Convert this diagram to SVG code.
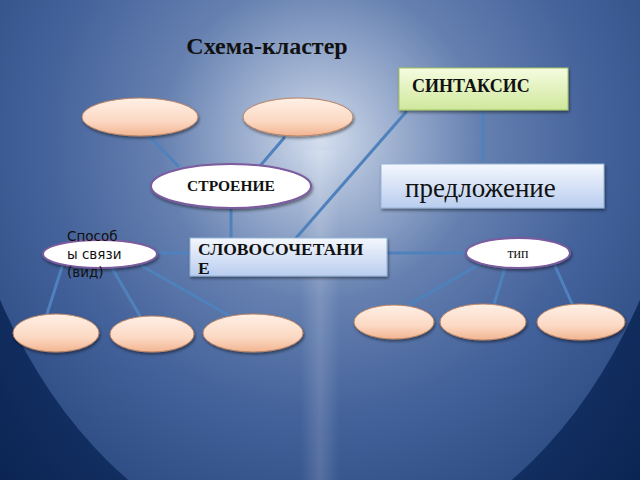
<svg xmlns="http://www.w3.org/2000/svg" width="640" height="480" viewBox="0 0 640 480">
<defs>
<radialGradient id="bgOuter" cx="320" cy="240" r="420" gradientUnits="userSpaceOnUse">
<stop offset="0" stop-color="#2a4a82"/>
<stop offset="0.6" stop-color="#153468"/>
<stop offset="1" stop-color="#0a2250"/>
</radialGradient>
<radialGradient id="bgInner" cx="320" cy="140" r="400" gradientUnits="userSpaceOnUse">
<stop offset="0" stop-color="#d4deee"/>
<stop offset="0.15" stop-color="#a7b8d5"/>
<stop offset="0.4" stop-color="#6580b0"/>
<stop offset="0.7" stop-color="#43619a"/>
<stop offset="1" stop-color="#2d4c84"/>
</radialGradient>
<linearGradient id="streak" x1="0" y1="0" x2="1" y2="0">
<stop offset="0" stop-color="#ffffff" stop-opacity="0"/>
<stop offset="0.5" stop-color="#ffffff" stop-opacity="0.15"/>
<stop offset="1" stop-color="#ffffff" stop-opacity="0"/>
</linearGradient>
<linearGradient id="peach" x1="0" y1="0" x2="0" y2="1">
<stop offset="0" stop-color="#fff0e6"/>
<stop offset="0.6" stop-color="#fcd9c4"/>
<stop offset="1" stop-color="#f2b592"/>
</linearGradient>
<linearGradient id="green" x1="0" y1="0" x2="0" y2="1">
<stop offset="0" stop-color="#f6fce0"/>
<stop offset="1" stop-color="#cfe79c"/>
</linearGradient>
<linearGradient id="blue" x1="0" y1="0" x2="0" y2="1">
<stop offset="0" stop-color="#f4f7fd"/>
<stop offset="1" stop-color="#b9cdef"/>
</linearGradient>
<filter id="sh" x="-20%" y="-20%" width="140%" height="150%">
<feDropShadow dx="1" dy="2" stdDeviation="1.5" flood-color="#000" flood-opacity="0.45"/>
</filter>
</defs>
<style>
.peach{fill:url(#peach);stroke:#b98466;stroke-width:1;filter:url(#sh)}
.white{fill:#ffffff;stroke:#7b5b9e;stroke-width:2;filter:url(#sh)}
.conn{stroke:#4f81bd;stroke-width:3;fill:none;stroke-linecap:round}
.serifB{font-family:"Liberation Serif","Times New Roman",serif;font-weight:bold;fill:#111}
.serif{font-family:"Liberation Serif","Times New Roman",serif;fill:#111}
.sans{font-family:"DejaVu Sans","Liberation Sans",sans-serif;fill:#111}
</style>

<rect x="0" y="0" width="640" height="480" fill="url(#bgOuter)"/>
<ellipse cx="320" cy="0" rx="380" ry="556" fill="url(#bgInner)"/>
<rect x="300" y="150" width="40" height="330" fill="url(#streak)"/>

<text class="serifB" x="267" y="54" font-size="24" text-anchor="middle">Схема-кластер</text>

<g id="connectors">
<line class="conn" x1="150" y1="137" x2="178" y2="166"/>
<line class="conn" x1="284" y1="138" x2="260" y2="166"/>
<line class="conn" x1="406" y1="112" x2="296" y2="238"/>
<line class="conn" x1="483" y1="113" x2="483" y2="160"/>
<line class="conn" x1="231" y1="208" x2="231" y2="238"/>
<line class="conn" x1="157" y1="253" x2="190" y2="253"/>
<line class="conn" x1="387" y1="253" x2="466" y2="253"/>
<line class="conn" x1="62" y1="267" x2="47" y2="314"/>
<line class="conn" x1="112" y1="268" x2="140" y2="316"/>
<line class="conn" x1="142" y1="266" x2="230" y2="316"/>
<line class="conn" x1="480" y1="264" x2="407" y2="306"/>
<line class="conn" x1="505" y1="268" x2="494" y2="304"/>
<line class="conn" x1="555" y1="266" x2="573" y2="306"/>
</g>

<g id="sintaksis">
<rect x="399" y="68" width="169" height="42" fill="url(#green)" stroke="#a4c263" stroke-width="1" filter="url(#sh)"/>
<text class="serifB" x="412" y="92" font-size="18">СИНТАКСИС</text>
</g>

<g id="predlozhenie">
<rect x="381" y="164" width="223" height="44" fill="url(#blue)" stroke="#95b3d7" stroke-width="1" filter="url(#sh)"/>
<text class="serif" x="405" y="197" font-size="27">предложение</text>
</g>

<g id="top-left">
<ellipse class="peach" cx="140" cy="117" rx="58" ry="19"/>
</g>
<g id="top-right">
<ellipse class="peach" cx="298" cy="117" rx="55" ry="19"/>
</g>

<g id="stroenie">
<ellipse class="white" cx="231" cy="186" rx="80" ry="22"/>
<text class="serifB" x="231" y="191" font-size="15.5" text-anchor="middle">СТРОЕНИЕ</text>
</g>

<g id="slovosochetanie">
<rect x="190" y="238" width="197" height="38" fill="url(#blue)" stroke="#95b3d7" stroke-width="1" filter="url(#sh)"/>
<text class="serifB" x="198" y="254.5" font-size="17.5">СЛОВОСОЧЕТАНИ</text>
<text class="serifB" x="198" y="274" font-size="17.5">Е</text>
</g>

<g id="sposoby">
<ellipse class="white" cx="100" cy="254" rx="57" ry="14"/>
<text class="sans" x="67" y="241" font-size="13.5">Способ</text>
<text class="sans" x="67" y="259" font-size="13.5">ы связи</text>
<text class="sans" x="67" y="277" font-size="13.5">(вид)</text>
</g>

<g id="tip">
<ellipse class="white" cx="518" cy="253" rx="52" ry="15"/>
<text class="serif" x="518" y="258" font-size="14" text-anchor="middle">тип</text>
</g>

<g id="bl1"><ellipse class="peach" cx="56" cy="333" rx="43" ry="19"/></g>
<g id="bl2"><ellipse class="peach" cx="152" cy="334" rx="42" ry="18"/></g>
<g id="bl3"><ellipse class="peach" cx="253" cy="333" rx="50" ry="19"/></g>
<g id="br1"><ellipse class="peach" cx="394" cy="322" rx="40" ry="17"/></g>
<g id="br2"><ellipse class="peach" cx="483" cy="322" rx="43" ry="18"/></g>
<g id="br3"><ellipse class="peach" cx="581" cy="322" rx="44" ry="18"/></g>
</svg>
